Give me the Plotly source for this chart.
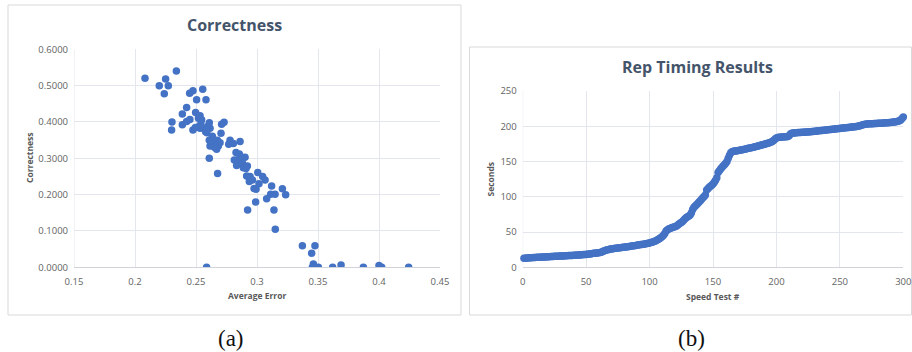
import plotly.graph_objects as go

# ---------------- data: (a) Correctness scatter ----------------
avg_error = [
    0.2082, 0.2199, 0.2251, 0.2273, 0.2240, 0.2339, 0.2303, 0.2300, 0.2388, 0.2388,
    0.2423, 0.2423, 0.2450, 0.2448, 0.2475, 0.2475, 0.2497, 0.2505, 0.2555, 0.2582,
    0.2520, 0.2533, 0.2546, 0.2520, 0.2533, 0.2560, 0.2579, 0.2600, 0.2609, 0.2615,
    0.2587, 0.2634, 0.2609, 0.2642, 0.2615, 0.2648, 0.2669, 0.2683, 0.2697, 0.2675,
    0.2705, 0.2710, 0.2730, 0.2609, 0.2677, 0.2587, 0.2768, 0.2779, 0.2806, 0.2861,
    0.2828, 0.2855, 0.2814, 0.2839, 0.2874, 0.2902, 0.2833, 0.2882, 0.2888, 0.2921,
    0.2910, 0.2915, 0.2943, 0.2937, 0.2964, 0.2976, 0.2992, 0.3006, 0.3016, 0.3046,
    0.3066, 0.2989, 0.2923, 0.3079, 0.3112, 0.3148, 0.3120, 0.3208, 0.3235, 0.3139,
    0.3150, 0.3372, 0.3475, 0.3448, 0.3462, 0.3454, 0.3503, 0.3620, 0.3689, 0.3872,
    0.4000, 0.4022, 0.4243, 0.2590, 0.2625, 0.2655, 0.2540, 0.2495,
]
correctness = [
    0.520, 0.500, 0.518, 0.500, 0.478, 0.540, 0.400, 0.378, 0.422, 0.392,
    0.440, 0.401, 0.407, 0.479, 0.486, 0.378, 0.426, 0.461, 0.490, 0.461,
    0.410, 0.417, 0.406, 0.387, 0.383, 0.383, 0.373, 0.389, 0.398, 0.383,
    0.378, 0.361, 0.350, 0.346, 0.334, 0.332, 0.325, 0.334, 0.343, 0.350,
    0.369, 0.394, 0.399, 0.300, 0.258, 0.000, 0.339, 0.350, 0.341, 0.346,
    0.316, 0.312, 0.295, 0.295, 0.303, 0.303, 0.280, 0.286, 0.274, 0.279,
    0.272, 0.251, 0.250, 0.236, 0.240, 0.217, 0.215, 0.261, 0.230, 0.250,
    0.240, 0.180, 0.158, 0.189, 0.201, 0.201, 0.224, 0.216, 0.200, 0.158,
    0.105, 0.059, 0.059, 0.039, 0.009, 0.000, 0.000, 0.000, 0.006, 0.000,
    0.005, 0.000, 0.000, 0.370, 0.340, 0.330, 0.395, 0.385,
]

# ---------------- data: (b) Rep Timing Results ----------------
speed_test = list(range(1, 301))
seconds = [
    12.8, 13.0, 13.2, 13.3, 13.5, 13.6, 13.7, 13.8, 13.9, 14.0,
    14.1, 14.2, 14.3, 14.4, 14.5, 14.5, 14.6, 14.7, 14.8, 15.0,
    15.1, 15.2, 15.3, 15.4, 15.5, 15.6, 15.7, 15.8, 15.9, 16.0,
    16.1, 16.2, 16.3, 16.4, 16.5, 16.6, 16.7, 16.8, 16.9, 17.0,
    17.1, 17.2, 17.3, 17.4, 17.6, 17.7, 17.8, 18.0, 18.1, 18.3,
    18.5, 18.8, 19.0, 19.3, 19.5, 19.8, 20.0, 20.2, 20.4, 20.6,
    21.0, 21.5, 22.3, 23.0, 23.8, 24.5, 25.0, 25.4, 25.8, 26.1,
    26.4, 26.6, 26.9, 27.1, 27.4, 27.6, 27.8, 28.0, 28.3, 28.5,
    28.7, 29.0, 29.2, 29.5, 29.8, 30.1, 30.4, 30.7, 31.0, 31.3,
    31.6, 31.9, 32.2, 32.5, 32.8, 33.1, 33.4, 33.8, 34.1, 34.5,
    35.0, 35.6, 36.2, 36.9, 37.8, 38.8, 39.9, 41.0, 42.3, 43.8,
    45.5, 47.8, 51.5, 53.0, 54.2, 55.0, 55.8, 56.4, 57.0, 57.5,
    58.2, 59.5, 61.0, 62.3, 63.5, 65.0, 67.0, 68.8, 70.5, 71.8,
    72.8, 74.0, 77.5, 82.0, 85.0, 87.0, 88.8, 90.5, 92.5, 94.5,
    96.5, 98.5, 100.5, 102.5, 109.5, 111.5, 113.5, 115.0, 116.5, 118.0,
    120.5, 123.5, 127.0, 134.5, 137.0, 139.5, 141.5, 143.5, 145.5, 147.5,
    150.0, 154.5, 159.0, 162.5, 164.0, 164.5, 164.8, 165.0, 165.3, 165.6,
    166.0, 166.3, 166.7, 167.1, 167.5, 167.9, 168.3, 168.7, 169.1, 169.5,
    169.9, 170.3, 170.8, 171.3, 171.8, 172.3, 172.8, 173.3, 173.8, 174.3,
    174.8, 175.3, 175.8, 176.3, 177.0, 177.8, 178.8, 180.0, 182.0, 183.5,
    184.0, 184.3, 184.5, 184.7, 184.8, 185.0, 185.1, 185.3, 185.5, 186.5,
    189.0, 190.0, 190.3, 190.5, 190.7, 190.9, 191.0, 191.1, 191.2, 191.4,
    191.5, 191.6, 191.7, 191.9, 192.0, 192.2, 192.3, 192.5, 192.7, 192.9,
    193.1, 193.3, 193.5, 193.7, 193.9, 194.1, 194.3, 194.5, 194.7, 194.9,
    195.1, 195.3, 195.5, 195.7, 195.9, 196.1, 196.3, 196.5, 196.7, 197.0,
    197.2, 197.4, 197.6, 197.8, 198.0, 198.2, 198.4, 198.6, 198.8, 199.0,
    199.2, 199.4, 199.6, 199.9, 200.3, 200.8, 201.5, 202.3, 202.6, 202.9,
    203.1, 203.3, 203.4, 203.5, 203.6, 203.7, 203.8, 203.9, 204.0, 204.1,
    204.2, 204.3, 204.4, 204.5, 204.7, 204.9, 205.0, 205.1, 205.3, 205.5,
    205.7, 205.9, 206.1, 206.3, 206.6, 207.0, 207.8, 209.0, 211.0, 213.0,
]

left_xticks = [0.15, 0.2, 0.25, 0.3, 0.35, 0.4, 0.45]
left_yticks = [0.0, 0.1, 0.2, 0.3, 0.4, 0.5, 0.6]
right_xticks = [0, 50, 100, 150, 200, 250, 300]
right_yticks = [0, 50, 100, 150, 200, 250]

W, H = 912, 352
BLUE = "#4472C4"
GRID = "#e3e6ec"
TICK = "#636363"
TITLE = "#44546A"
FONT = "Open Sans"


def px(x):
    return x / W


def py(y):
    return 1 - y / H


fig = go.Figure()

fig.add_trace(go.Scatter(
    x=avg_error, y=correctness, mode="markers",
    marker=dict(color=BLUE, size=7.5, line=dict(width=0)),
    xaxis="x", yaxis="y", showlegend=False,
))

fig.add_trace(go.Scatter(
    x=speed_test, y=seconds, mode="lines+markers",
    line=dict(color=BLUE, width=3.5),
    marker=dict(color=BLUE, size=7.5, line=dict(width=0)),
    xaxis="x2", yaxis="y2", showlegend=False, cliponaxis=False,
))

axis_common = dict(
    showgrid=True, gridcolor=GRID, gridwidth=1,
    zeroline=False, ticks="", automargin=False,
    tickfont=dict(family=FONT, size=9.5, color=TICK),
    ticklabelstandoff=5,
)

fig.update_layout(
    width=W, height=H,
    margin=dict(l=0, r=0, t=0, b=0, pad=0, autoexpand=False),
    paper_bgcolor="white", plot_bgcolor="white",
    font=dict(family=FONT),
    showlegend=False,
    xaxis=dict(
        domain=[px(74), px(440)], range=[0.15, 0.45],
        tickvals=left_xticks, ticktext=[f"{v:g}" for v in left_xticks],
        anchor="y", showline=True, linecolor="#d0d3d9", **axis_common,
    ),
    yaxis=dict(
        domain=[py(267.3), py(49.3)], range=[0, 0.6],
        tickvals=left_yticks, tickformat=".4f",
        anchor="x", showline=False, **axis_common,
    ),
    xaxis2=dict(
        domain=[px(522.7), px(903.3)], range=[0, 300],
        tickvals=right_xticks, anchor="y2",
        showline=True, linecolor="#d0d3d9", **axis_common,
    ),
    yaxis2=dict(
        domain=[py(267.3), py(91)], range=[0, 250],
        tickvals=right_yticks, anchor="x2", showline=False, **axis_common,
    ),
)

# left y-axis edge gridlines
fig.add_shape(type="line", xref="x", yref="y", x0=0.15, x1=0.15, y0=0, y1=0.6,
              line=dict(color=GRID, width=1), layer="below")
fig.add_shape(type="line", xref="x2", yref="y2", x0=0, x1=0, y0=0, y1=250,
              line=dict(color=GRID, width=1), layer="below")

# panel frames
fig.add_shape(type="rect", xref="paper", yref="paper",
              x0=px(8), x1=px(461), y0=py(315), y1=py(5),
              line=dict(color="#d9d9d9", width=1), layer="below")
fig.add_shape(type="rect", xref="paper", yref="paper",
              x0=px(469.5), x1=px(911.5), y0=py(315), y1=py(47),
              line=dict(color="#d9d9d9", width=1), layer="below")

ann = []
ann.append(dict(text="<b>Correctness</b>", x=px(234.5), y=py(25), xref="paper", yref="paper",
                showarrow=False, font=dict(family=FONT, size=16, color=TITLE),
                xanchor="center", yanchor="middle"))
ann.append(dict(text="<b>Rep Timing Results</b>", x=px(697), y=py(67), xref="paper", yref="paper",
                showarrow=False, font=dict(family=FONT, size=16, color=TITLE),
                xanchor="center", yanchor="middle"))
ann.append(dict(text="<b>Average Error</b>", x=px(257), y=py(295.5), xref="paper", yref="paper",
                showarrow=False, font=dict(family=FONT, size=8.5, color="#595959"),
                xanchor="center", yanchor="middle"))
ann.append(dict(text="<b>Correctness</b>", x=px(29), y=py(158), xref="paper", yref="paper",
                showarrow=False, font=dict(family=FONT, size=8.5, color="#595959"),
                textangle=-90, xanchor="center", yanchor="middle"))
ann.append(dict(text="<b>Speed Test #</b>", x=px(713), y=py(296), xref="paper", yref="paper",
                showarrow=False, font=dict(family=FONT, size=8.5, color="#595959"),
                xanchor="center", yanchor="middle"))
ann.append(dict(text="<b>Seconds</b>", x=px(489.5), y=py(179), xref="paper", yref="paper",
                showarrow=False, font=dict(family=FONT, size=8.5, color="#595959"),
                textangle=-90, xanchor="center", yanchor="middle"))
ann.append(dict(text="(a)", x=px(231), y=py(338), xref="paper", yref="paper",
                showarrow=False, font=dict(family="Liberation Serif", size=23, color="#111111"),
                xanchor="center", yanchor="middle"))
ann.append(dict(text="(b)", x=px(691), y=py(338), xref="paper", yref="paper",
                showarrow=False, font=dict(family="Liberation Serif", size=23, color="#111111"),
                xanchor="center", yanchor="middle"))
fig.update_layout(annotations=ann)

fig.write_html("out.html")
